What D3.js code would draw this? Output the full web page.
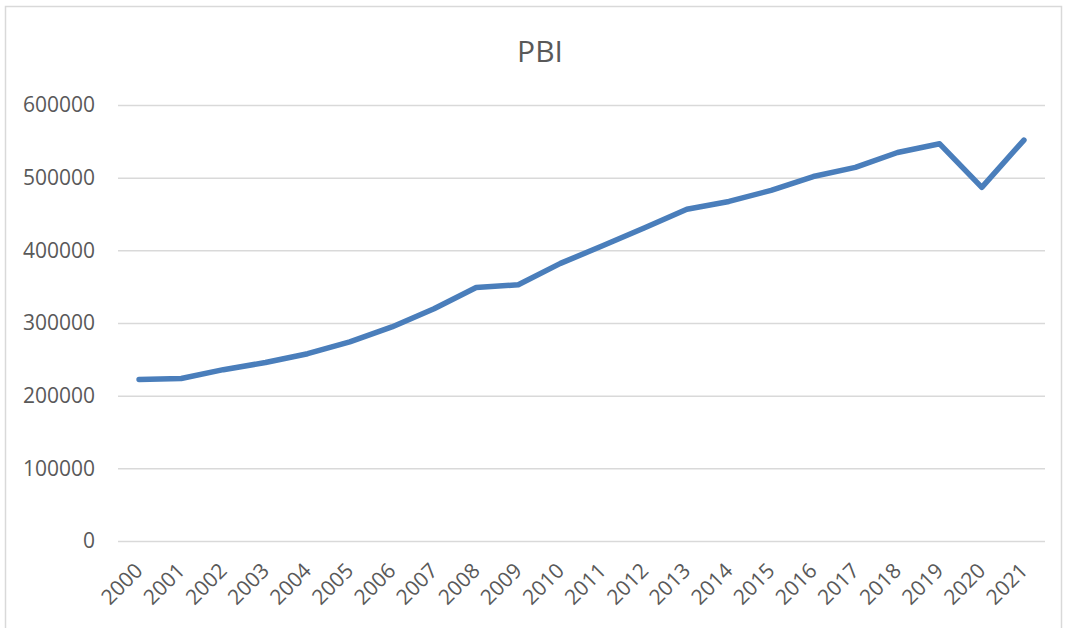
<!DOCTYPE html>
<html>
<head>
<meta charset="utf-8">
<script src="https://cdn.jsdelivr.net/npm/d3@7"></script>
<style>
  body { margin: 0; background: #fff; }
  svg { display: block; font-family: "Open Sans", sans-serif; }
</style>
</head>
<body>
<svg width="1067" height="628"></svg>
<script>
// data
var years = ["2000","2001","2002","2003","2004","2005","2006","2007","2008","2009","2010",
             "2011","2012","2013","2014","2015","2016","2017","2018","2019","2020","2021"];
var pbi = [222207, 223580, 235773, 245593, 257770, 273971, 294598, 319693, 348923, 352584, 382081,
           406256, 431199, 456435, 467308, 482506, 501581, 514215, 534665, 546605, 486737, 551714];
var yTicks = [0, 100000, 200000, 300000, 400000, 500000, 600000];
var title = "PBI";

var svg = d3.select("svg"),
    margin = {top: 105, right: 22, bottom: 87, left: 118},
    w = +svg.attr("width") - margin.left - margin.right,
    h = +svg.attr("height") - margin.top - margin.bottom;

// chart border
svg.append("rect")
    .attr("x", 5.5).attr("y", 6.5)
    .attr("width", 1056).attr("height", 640)
    .attr("fill", "none")
    .attr("stroke", "#d9d9d9")
    .attr("stroke-width", 1.5);

svg.append("text")
    .attr("x", 540).attr("y", 62)
    .attr("text-anchor", "middle")
    .attr("fill", "#595959")
    .style("font-size", "30px")
    .text(title);

var x = d3.scaleBand().domain(years).range([0, w]),
    y = d3.scaleLinear().domain([0, 600000]).range([h, 0]);

var g = svg.append("g")
    .attr("transform", "translate(" + margin.left + "," + margin.top + ")");

// gridlines
g.append("g")
    .call(d3.axisLeft(y).tickValues(yTicks).tickSize(-w).tickFormat(""))
    .call(function(a) {
      a.select(".domain").remove();
      a.selectAll("line").attr("stroke", "#d9d9d9").attr("stroke-width", 1.5);
    });

// y labels
g.append("g")
    .call(d3.axisLeft(y).tickValues(yTicks).tickSize(0).tickPadding(23).tickFormat(d3.format("d")))
    .call(function(a) {
      a.select(".domain").remove();
      a.selectAll("text").attr("fill", "#595959").style("font-size", "21px")
        .style("font-family", "\"Open Sans\", sans-serif");
    });

// x labels
g.append("g")
    .attr("transform", "translate(0," + h + ")")
    .call(d3.axisBottom(x).tickSize(0).tickPadding(0))
    .call(function(a) {
      a.select(".domain").remove();
      a.selectAll("text")
        .attr("fill", "#595959")
        .style("font-size", "21px")
        .style("font-family", "\"Open Sans\", sans-serif")
        .attr("text-anchor", "end")
        .attr("dy", "0")
        .attr("y", 0)
        .attr("transform", "translate(5,31) rotate(-45)");
    });

var line = d3.line()
    .x(function(d, i) { return x(years[i]) + x.bandwidth() / 2; })
    .y(function(d) { return y(d); });

g.append("path")
    .datum(pbi)
    .attr("fill", "none")
    .attr("stroke", "#4a7ebb")
    .attr("stroke-width", 5.5)
    .attr("stroke-linejoin", "round")
    .attr("stroke-linecap", "round")
    .attr("d", line);
</script>
</body>
</html>
